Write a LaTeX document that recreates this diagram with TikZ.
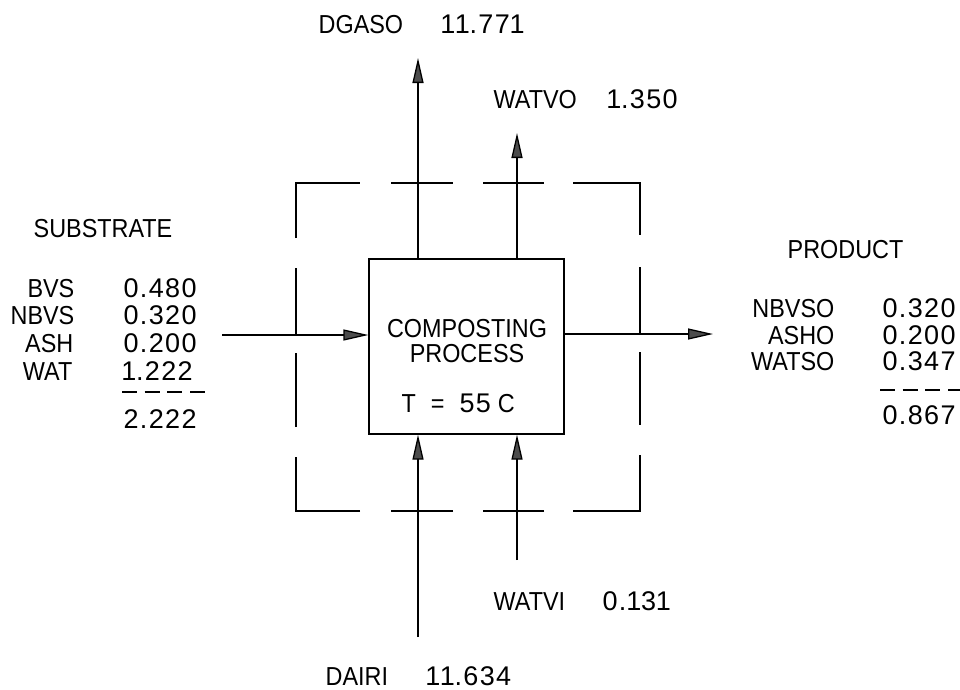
\documentclass[tikz,border=0pt]{standalone}
\usepackage{fontspec}
\setmainfont{Liberation Sans}[FakeStretch=0.9]
\newfontfamily\numfont{Liberation Sans}[LetterSpace=5]
\newcommand{\nar}{\makebox[14.5pt][c]{1}}
\usetikzlibrary{arrows.meta}
\begin{document}
\begin{tikzpicture}[x=1pt,y=-1pt, line width=1.3pt,
  lbl/.style={inner sep=0pt, font=\fontsize{26}{30}\selectfont},
  num/.style={inner sep=0pt, font=\fontsize{27}{30}\selectfont\numfont},
  arr/.style={-{Triangle[length=25pt,width=11pt,fill=black!70]}},
  framepart/.style={line width=1.1pt},
  sepline/.style={line width=1.3pt, dash pattern=on 15pt off 7.7pt}]
\useasboundingbox (0,0) rectangle (960,689);

% central box
\node[draw, minimum width=195pt, minimum height=175pt, inner sep=0pt] (box) at (466.5,346.5) {};
\node[lbl, anchor=base] (t1) at (467,337) {COMPOSTING};
\node[lbl, anchor=base] (t2) at (467,362) {PROCESS};
\node[lbl, anchor=base west] (t3) at (401,412) {T\hspace{15pt}=\hspace{15pt}{\fontsize{27}{30}\selectfont\numfont 55}\hspace{7pt}C};

% arrows
\coordinate (dg) at (418,58);
\draw[arr] (dg |- box.north) -- (dg);
\coordinate (wv) at (517,133);
\draw[arr] (wv |- box.north) -- (wv);
\coordinate (da) at (418,637);
\draw[arr] (da) -- (da |- box.south);
\coordinate (wi) at (517,560);
\draw[arr] (wi) -- (wi |- box.south);
\coordinate (sin) at (222,335);
\draw[arr] (sin) -- (sin -| box.west);
\coordinate (pout) at (713,334);
\draw[arr] (pout -| box.east) -- (pout);

% dashed control volume
\draw[framepart] (296,238) -- (296,183) -- (360,183);
\draw[framepart] (391,183) -- (453,183);
\draw[framepart] (483,183) -- (544,183);
\draw[framepart] (573,183) -- (640,183) -- (640,235);
\draw[framepart] (640,267) -- (640,334);
\draw[framepart] (640,352) -- (640,425);
\draw[framepart] (640,455) -- (640,511) -- (573,511);
\draw[framepart] (544,511) -- (483,511);
\draw[framepart] (453,511) -- (391,511);
\draw[framepart] (360,511) -- (296,511) -- (296,457);
\draw[framepart] (296,427) -- (296,353);
\draw[framepart] (296,335) -- (296,268);

% top labels
\node[lbl, anchor=base west] (dgaso) at (318,33) {DGASO};
\node[num, anchor=base west] (dgasov) at (440,33) {\nar\nar.77\nar};
\node[lbl, anchor=base west] (watvo) at (493,108) {WATVO};
\node[num, anchor=base west] (watvov) at (606,108) {\nar.350};

% substrate
\node[lbl, anchor=base west] (sub) at (33,237) {SUBSTRATE};
\node[lbl, anchor=base east] (bvs) at (75,297) {BVS};
\node[lbl, anchor=base east] (nbvs) at (75,324) {NBVS};
\node[lbl, anchor=base east] (ash) at (74,352) {ASH};
\node[lbl, anchor=base east] (wat) at (73,380) {WAT};
\node[num, anchor=base west] (bvsv) at (123,297) {0.480};
\node[num, anchor=base west] (nbvsv) at (123,324) {0.320};
\node[num, anchor=base west] (ashv) at (123,352) {0.200};
\node[num, anchor=base west] (watv) at (121,380) {\nar.222};
\coordinate (s1) at (122,392);
\coordinate (s2) at (205,392);
\draw[sepline] (s1) -- (s2);
\node[num, anchor=base west] (subt) at (123,428) {2.222};

% product
\node[lbl, anchor=base west] (prod) at (787,258) {PRODUCT};
\node[lbl, anchor=base east] (nbvso) at (835,317) {NBVSO};
\node[lbl, anchor=base east] (asho) at (835,344) {ASHO};
\node[lbl, anchor=base east] (watso) at (835,370) {WATSO};
\node[num, anchor=base west] (nbvsov) at (882,317) {0.320};
\node[num, anchor=base west] (ashov) at (882,344) {0.200};
\node[num, anchor=base west] (watsov) at (882,370) {0.347};
\coordinate (p1) at (880,390);
\coordinate (p2) at (960,390);
\draw[sepline] (p1) -- (p2);
\node[num, anchor=base west] (prodt) at (882,424) {0.867};

% bottom labels
\node[lbl, anchor=base west] (watvi) at (493,610) {WATVI};
\node[num, anchor=base west] (watviv) at (602,610) {0.\nar3\nar};
\node[lbl, anchor=base west] (dairi) at (325,685) {DAIRI};
\node[num, anchor=base west] (dairiv) at (425,685) {\nar\nar.634};
\end{tikzpicture}
\end{document}
